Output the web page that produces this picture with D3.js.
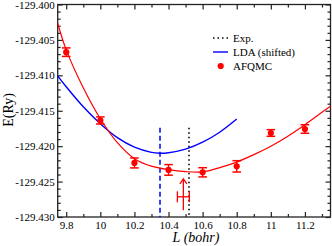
<!DOCTYPE html>
<html>
<head>
<meta charset="utf-8">
<script src="https://cdn.jsdelivr.net/npm/d3@7"></script>
<style>
  body { margin: 0; background: #fff; }
  svg { display: block; font-family: "Liberation Serif", "Times New Roman", serif; }
</style>
</head>
<body>
<svg width="332" height="246"></svg>
<script>
// AFQMC points
const afqmcL = [9.8, 10.0, 10.2, 10.4, 10.6, 10.8, 11.0, 11.2];
const afqmcE = [-129.40673, -129.41637, -129.42237, -129.42335, -129.42369, -129.42285, -129.41814, -129.41758];
const afqmcErr = [0.0006, 0.0005, 0.0007, 0.00075, 0.00065, 0.0008, 0.00047, 0.0006];

// fit through AFQMC (red)
const fitL = [9.75, 9.8, 9.9, 10.0, 10.1, 10.2, 10.3, 10.4, 10.5, 10.6, 10.7, 10.8, 10.9, 11.0, 11.1, 11.2, 11.3, 11.35];
const fitE = [-129.40265, -129.40641, -129.41176, -129.41613, -129.41951, -129.42176, -129.42282, -129.42331,
  -129.42359, -129.42363, -129.42303, -129.42225, -129.42120, -129.42000, -129.41859, -129.41697, -129.41521, -129.41437];

// LDA (shifted), blue
const ldaL = [9.75, 9.8, 9.9, 10.0, 10.1, 10.2, 10.3, 10.35, 10.4, 10.5, 10.6, 10.7, 10.8];
const ldaE = [-129.41007, -129.41162, -129.41444, -129.41683, -129.41880, -129.42014, -129.42087, -129.42099,
  -129.42092, -129.42042, -129.41944, -129.41803, -129.41617];

// vertical markers
const ldaMinL = 10.35;
const expL = 10.52;
const markTopE = -129.4174;

// AFQMC equilibrium arrow + horizontal error bar
const eqL = 10.487;
const eqErr = 0.035;
const eqBarE = -129.42715;
const arrowE = [-129.42904, -129.42462];

const xMajor = [9.8, 10.0, 10.2, 10.4, 10.6, 10.8, 11.0, 11.2];
const xMinor = [9.9, 10.1, 10.3, 10.5, 10.7, 10.9, 11.1, 11.3];
const yMajor = [-129.430, -129.425, -129.420, -129.415, -129.410, -129.405, -129.400];
const yMinor = d3.range(0, 31).map(i => -129.430 + i * 0.001).filter((v, i) => i % 5 !== 0);

const legendItems = ["Exp.", "LDA (shifted)", "AFQMC"];

const svg = d3.select("svg");
const mLeft = 57.7, mRight = 330.5, mTop = 4.5, mBottom = 217;

const x = d3.scaleLinear().domain([9.75, 11.35]).range([mLeft, mRight]);
const y = d3.scaleLinear().domain([-129.43, -129.40]).range([mBottom, mTop]);

const axisColor = "#222";

// frame
svg.append("rect")
  .attr("x", mLeft).attr("y", mTop)
  .attr("width", mRight - mLeft).attr("height", mBottom - mTop)
  .attr("fill", "none").attr("stroke", axisColor).attr("stroke-width", 1.3);

function styleAxis(g) {
  g.select(".domain").remove();
  g.selectAll(".tick line").attr("stroke", axisColor).attr("stroke-width", 1.2);
  g.selectAll("text").attr("fill", "#000").attr("font-size", 11).attr("font-family", "Liberation Serif, serif");
}

// bottom
svg.append("g").attr("transform", `translate(0,${mBottom})`)
  .call(d3.axisBottom(x).tickValues(xMajor).tickSize(-5).tickPadding(4).tickFormat(d => String(+d.toFixed(1))))
  .call(styleAxis);
svg.append("g").attr("transform", `translate(0,${mBottom})`)
  .call(d3.axisBottom(x).tickValues(xMinor).tickSize(-3).tickFormat(""))
  .call(styleAxis);
// top
svg.append("g").attr("transform", `translate(0,${mTop})`)
  .call(d3.axisTop(x).tickValues(xMajor).tickSize(-5).tickFormat(""))
  .call(styleAxis);
svg.append("g").attr("transform", `translate(0,${mTop})`)
  .call(d3.axisTop(x).tickValues(xMinor).tickSize(-3).tickFormat(""))
  .call(styleAxis);
// left
svg.append("g").attr("transform", `translate(${mLeft},0)`)
  .call(d3.axisLeft(y).tickValues(yMajor).tickSize(-5).tickPadding(3).tickFormat(d => d.toFixed(3)))
  .call(styleAxis);
svg.append("g").attr("transform", `translate(${mLeft},0)`)
  .call(d3.axisLeft(y).tickValues(yMinor).tickSize(-3).tickFormat(""))
  .call(styleAxis);
// right
svg.append("g").attr("transform", `translate(${mRight},0)`)
  .call(d3.axisRight(y).tickValues(yMajor).tickSize(-5).tickFormat(""))
  .call(styleAxis);
svg.append("g").attr("transform", `translate(${mRight},0)`)
  .call(d3.axisRight(y).tickValues(yMinor).tickSize(-3).tickFormat(""))
  .call(styleAxis);

// axis titles
svg.append("text")
  .attr("transform", `translate(13,110) rotate(-90)`)
  .attr("text-anchor", "middle")
  .attr("font-size", 14)
  .text("E(Ry)");

svg.append("text")
  .attr("x", 196).attr("y", 242)
  .attr("text-anchor", "middle")
  .attr("font-size", 14)
  .attr("font-style", "italic")
  .text("L (bohr)");

const plot = svg.append("g");

// vertical markers
plot.append("line")
  .attr("x1", x(ldaMinL)).attr("x2", x(ldaMinL))
  .attr("y1", y(markTopE)).attr("y2", mBottom)
  .attr("stroke", "#0000ff").attr("stroke-width", 1.5).attr("stroke-dasharray", "5,3");

plot.append("line")
  .attr("x1", x(expL)).attr("x2", x(expL))
  .attr("y1", y(markTopE)).attr("y2", mBottom)
  .attr("stroke", "#000").attr("stroke-width", 1.6).attr("stroke-dasharray", "1.5,3");

const line = d3.line()
  .x(d => x(d[0]))
  .y(d => y(d[1]))
  .curve(d3.curveCatmullRom);

// LDA curve
plot.append("path")
  .datum(d3.zip(ldaL, ldaE))
  .attr("fill", "none").attr("stroke", "#0000ff").attr("stroke-width", 1.4)
  .attr("d", line);

// fit curve
plot.append("path")
  .datum(d3.zip(fitL, fitE))
  .attr("fill", "none").attr("stroke", "#ff0000").attr("stroke-width", 1.2)
  .attr("d", line);

// AFQMC points with error bars
const pts = plot.selectAll(".pt")
  .data(d3.zip(afqmcL, afqmcE, afqmcErr))
  .join("g").attr("class", "pt");

pts.append("line")
  .attr("x1", d => x(d[0])).attr("x2", d => x(d[0]))
  .attr("y1", d => y(d[1] - d[2])).attr("y2", d => y(d[1] + d[2]))
  .attr("stroke", "#ff0000").attr("stroke-width", 1.3);
pts.selectAll(".cap")
  .data(d => [[d[0], d[1] - d[2]], [d[0], d[1] + d[2]]])
  .join("line")
  .attr("x1", d => x(d[0]) - 4.3).attr("x2", d => x(d[0]) + 4.3)
  .attr("y1", d => y(d[1])).attr("y2", d => y(d[1]))
  .attr("stroke", "#ff0000").attr("stroke-width", 1.5);
pts.append("circle")
  .attr("cx", d => x(d[0])).attr("cy", d => y(d[1]))
  .attr("r", 3.1).attr("fill", "#ff0000");

// equilibrium arrow
plot.append("line")
  .attr("x1", x(eqL)).attr("x2", x(eqL))
  .attr("y1", y(arrowE[0])).attr("y2", y(arrowE[1]))
  .attr("stroke", "#ff0000").attr("stroke-width", 1.3);
plot.append("path")
  .attr("d", `M${x(eqL) - 3.5},${y(arrowE[1]) + 5} L${x(eqL)},${y(arrowE[1])} L${x(eqL) + 3.5},${y(arrowE[1]) + 5}`)
  .attr("fill", "none").attr("stroke", "#ff0000").attr("stroke-width", 1.3);
plot.append("line")
  .attr("x1", x(eqL - eqErr)).attr("x2", x(eqL + eqErr))
  .attr("y1", y(eqBarE)).attr("y2", y(eqBarE))
  .attr("stroke", "#ff0000").attr("stroke-width", 1.3);
plot.selectAll(".hcap")
  .data([eqL - eqErr, eqL + eqErr])
  .join("line")
  .attr("x1", d => x(d)).attr("x2", d => x(d))
  .attr("y1", y(eqBarE) - 5.5).attr("y2", y(eqBarE) + 5.5)
  .attr("stroke", "#ff0000").attr("stroke-width", 1.3);

// legend
const lg = svg.append("g").attr("transform", "translate(213,38)");
legendItems.forEach((name, i) => {
  const row = lg.append("g").attr("transform", `translate(0,${i * 14})`);
  if (i === 0) {
    row.append("line").attr("x1", 0).attr("x2", 15).attr("y1", 0).attr("y2", 0)
      .attr("stroke", "#000").attr("stroke-width", 1.6).attr("stroke-dasharray", "1.5,3");
  } else if (i === 1) {
    row.append("line").attr("x1", 0).attr("x2", 15).attr("y1", 0).attr("y2", 0)
      .attr("stroke", "#0000ff").attr("stroke-width", 1.4);
  } else {
    row.append("circle").attr("cx", 7.7).attr("cy", 0).attr("r", 3.1).attr("fill", "#ff0000");
  }
  row.append("text").attr("x", 20).attr("y", 3.8).attr("font-size", 11).text(name);
});
</script>
</body>
</html>
